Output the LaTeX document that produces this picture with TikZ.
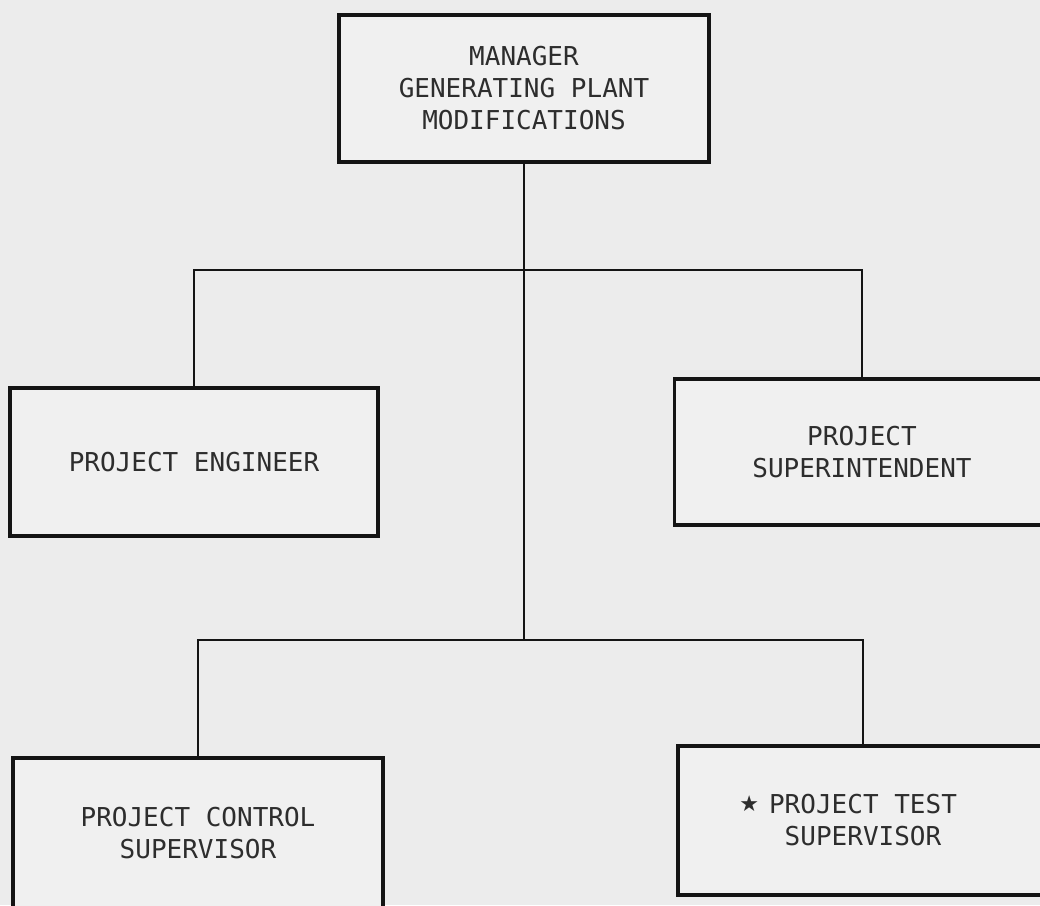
\documentclass[tikz,border=0pt]{standalone}
\usepackage{fontspec}
\setmonofont{DejaVu Sans Mono}
\newfontfamily\symfont{DejaVu Sans}
\definecolor{bg}{RGB}{236,236,236}
\definecolor{boxbg}{RGB}{240,240,240}
\definecolor{ink}{RGB}{20,20,20}
\definecolor{txt}{RGB}{45,45,45}
\begin{document}
\begin{tikzpicture}[x=1pt,y=-1pt,
  orgbox/.style={draw=ink, line width=3.4pt, fill=boxbg, inner sep=0pt,
    align=center, text=txt, font=\ttfamily\fontsize{26}{32}\selectfont},
  conn/.style={draw=ink, line width=2.8pt}]
\fill[bg] (0,0) rectangle (1040,905);
\useasboundingbox (0,0) rectangle (1040,905);
\clip (0,0) rectangle (1040,905);
\node[orgbox, minimum width=370pt, minimum height=147pt] (mgr) at (524,88.5)
  {MANAGER\\GENERATING PLANT\\MODIFICATIONS};
\node[orgbox, minimum width=368pt, minimum height=148pt] (pe) at (194,462)
  {PROJECT ENGINEER};
\node[orgbox, minimum width=375pt, minimum height=146pt] (ps) at (862,452)
  {PROJECT\\SUPERINTENDENT};
\node[orgbox, minimum width=370pt, minimum height=150pt] (pcs) at (198,833)
  {PROJECT CONTROL\\SUPERVISOR};
\node[orgbox, minimum width=370pt, minimum height=149pt] (pts) at (863,820.5)
  {\llap{\raisebox{2pt}{\symfont\fontsize{22}{24}\selectfont ★}\hspace{10pt}}PROJECT TEST\\SUPERVISOR};
\coordinate (j1) at (524,270);
\coordinate (j2) at (524,640);
\draw[conn] (mgr.south) -- (j2);
\draw[conn] (pe.north) |- (j1) -| (ps.north);
\draw[conn] (pcs.north) |- (j2) -| (pts.north);
\end{tikzpicture}
\end{document}
